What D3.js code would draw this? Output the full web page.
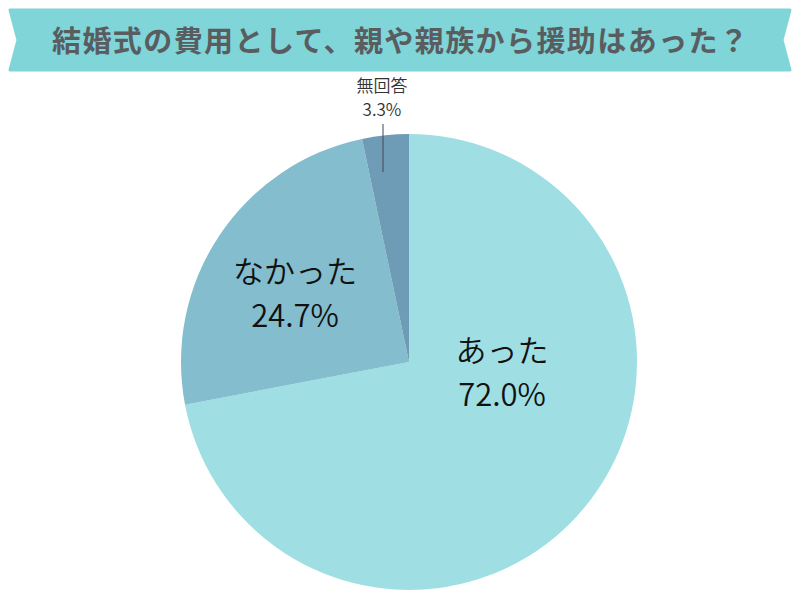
<!DOCTYPE html>
<html><head><meta charset="utf-8">
<script src="https://cdn.jsdelivr.net/npm/d3@7"></script>
<style>body{margin:0;background:#fff}svg{display:block}</style>
</head><body>
<svg id="c" width="800" height="600"></svg>
<script>
const title = "結婚式の費用として、親や親族から援助はあった？";
const categories = ["あった", "なかった", "無回答"];
const values = [72.0, 24.7, 3.3];
const colors = ["#9fdfe3", "#84bdcd", "#6e9bb5"];

const svg = d3.select("#c");
const font = "'Noto Sans CJK JP','Noto Sans',sans-serif";

// banner
const bx0 = 7, bx1 = 793, by0 = 10, by1 = 70, notch = 11;
const bannerPath = d3.path();
bannerPath.moveTo(bx0 + 3, by0);
bannerPath.lineTo(bx1 - 3, by0);
bannerPath.lineTo(bx1 - notch, (by0 + by1) / 2);
bannerPath.lineTo(bx1 - 3, by1);
bannerPath.lineTo(bx0 + 3, by1);
bannerPath.lineTo(bx0 + notch, (by0 + by1) / 2);
bannerPath.closePath();
svg.append("path").attr("d", bannerPath.toString()).attr("fill", "#80d5d8")
  .attr("stroke", "#80d5d8").attr("stroke-width", 3).attr("stroke-linejoin", "round");
svg.append("text").attr("x", 400).attr("y", 52).attr("text-anchor", "middle")
  .attr("font-family", font).attr("font-weight", 600).attr("font-size", 29)
  .attr("textLength", 696).attr("lengthAdjust", "spacing")
  .attr("fill", "#595d5f").text(title);

// pie
const cx = 409, cy = 362, R = 228;
const data = categories.map((c, i) => ({cat: c, value: values[i], color: colors[i]}));
const pie = d3.pie().value(d => d.value).sort(null);
const arc = d3.arc().innerRadius(0).outerRadius(R);
const g = svg.append("g").attr("transform", `translate(${cx},${cy})`);
const arcs = pie(data);
g.selectAll("path").data(arcs).join("path")
  .attr("d", arc).attr("fill", d => d.data.color);

// labels
const fmt = v => v.toFixed(1) + "%";
const big = [{i: 0, x: 502, y: 362}, {i: 1, x: 295, y: 283}];
big.forEach(p => {
  const t = svg.append("text").attr("text-anchor", "middle").attr("font-family", font)
    .attr("font-size", 31).attr("font-weight", 350).attr("fill", "#111");
  t.append("tspan").attr("x", p.x).attr("y", p.y).text(data[p.i].cat);
  t.append("tspan").attr("x", p.x).attr("y", p.y + 44).text(fmt(data[p.i].value));
});
// small outside label for 無回答
const s = svg.append("text").attr("text-anchor", "middle").attr("font-family", font)
  .attr("font-size", 17).attr("font-weight", 350).attr("fill", "#333");
s.append("tspan").attr("x", 382).attr("y", 92).text(data[2].cat);
s.append("tspan").attr("x", 382).attr("y", 116).text(fmt(data[2].value));
svg.append("line").attr("x1", 383).attr("x2", 383).attr("y1", 124).attr("y2", 172)
  .attr("stroke", "#445").attr("stroke-width", 1);
</script>
</body></html>
